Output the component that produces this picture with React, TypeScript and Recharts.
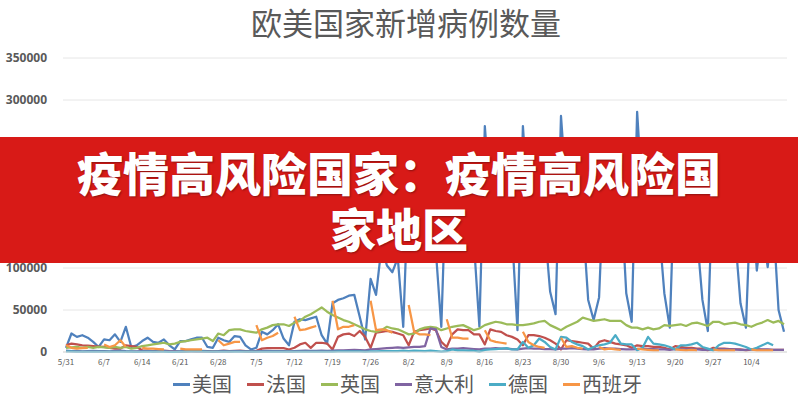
import React from 'react';
import { LineChart, Line, XAxis, YAxis, CartesianGrid } from 'recharts';

// daily values from 5/31 to 10/10 (133 days), one row per week
const US = [
  5000, 22000, 18000, 20000, 17000, 12000, 6000,
  15000, 14000, 21000, 12000, 30000, 6000, 8000,
  13000, 17000, 12000, 11000, 15000, 8000, 3000,
  13000, 13000, 15000, 17000, 17000, 6000, 5000,
  17000, 14000, 12000, 19000, 18000, 8000, 3000,
  5000, 24000, 21000, 26000, 33000, 16000, 8000,
  36000, 39000, 38000, 40000, 42000, 20000, 10000,
  58000, 62000, 64000, 67000, 68000, 42000, 15000,
  87000, 68000, 125000, 103000, 95000, 112000, 30000,
  210000, 150000, 170000, 140000, 160000, 120000, 30000,
  230000, 160000, 180000, 150000, 170000, 130000, 30000,
  269000, 180000, 160000, 190000, 150000, 140000, 26000,
  269000, 170000, 200000, 160000, 150000, 72000, 45000,
  281000, 190000, 170000, 200000, 160000, 62000, 38000,
  65000, 220000, 180000, 160000, 190000, 70000, 36000,
  286000, 180000, 200000, 170000, 150000, 70000, 29000,
  230000, 170000, 190000, 160000, 140000, 62000, 25000,
  220000, 180000, 160000, 190000, 140000, 58000, 29000,
  200000, 97000, 150000, 101000, 160000, 50000, 24000,
];

const FR = [
  8000, 10000, 9000, 8000, 7500, 7000, 6500,
  6000, 5000, 4000, 4000, 8000, 7000, 6000,
  2000, 1500, 1000, 1000, 1500, 1000, 800,
  500, 800, 1000, 1000, 1200, 1000, 800,
  1000, 1500, 1000, 1200, 1500, 1000, 600,
  1500, 4000, 4500, 4500, 4500, 4500, 3000,
  5000, 9000, 11000, 5000, 11000, 11000, 10000,
  3000, 18000, 21000, 22000, 19000, 25000, 18000,
  5000, 23000, 24000, 25000, 24000, 22000, 20000,
  8000, 24000, 26000, 27000, 28000, 26000, 12000,
  6000, 21000, 27000, 26000, 26000, 21000, 21000,
  9000, 27000, 25000, 24000, 20000, 18000, 15000,
  8000, 20000, 20000, 19000, 17000, 14000, 10000,
  3000, 14000, 13000, 12000, 11000, 10000, 4000,
  12000, 14000, 12000, 10000, 9000, 8000, 5000,
  8000, 7000, 7000, 6000, 6000, 5000, 3000,
  7000, 6000, 5000, 5000, 4000, 4000, 2000,
  5000, 4000, 4000, 3500, 3000, 3000, 2000,
  3000, 3000, 2500, 2500, 2500, 2500, 2500,
];

const UK = [
  5000, 5500, 6000, 5000, 6000, 5000, 6000,
  5500, 5000, 6000, 5000, 6000, 4000, 5000,
  7000, 8000, 9000, 10000, 11000, 9000, 10000,
  12000, 13000, 14000, 15000, 16000, 17000, 13000,
  22000, 20000, 26000, 27000, 27000, 25000, 24000,
  23000, 27000, 29000, 32000, 33000, 33000, 31000,
  35000, 37000, 42000, 45000, 49000, 53000, 48000,
  44000, 41000, 38000, 36000, 33000, 30000, 27000,
  25000, 24000, 26000, 30000, 28000, 27000, 24000,
  21000, 22000, 27000, 29000, 30000, 29000, 26000,
  28000, 30000, 31000, 32000, 29000, 26000, 28000,
  32000, 34000, 36000, 35000, 33000, 33000, 32000,
  32000, 33000, 34000, 36000, 37000, 32000, 29000,
  26000, 30000, 33000, 36000, 41000, 39000, 37000,
  38000, 39000, 37000, 37000, 37000, 32000, 29000,
  29000, 27000, 29000, 27000, 28000, 32000, 31000,
  32000, 33000, 31000, 34000, 35000, 33000, 31000,
  36000, 36000, 33000, 34000, 35000, 33000, 32000,
  30000, 33000, 35000, 38000, 35000, 37000, 33000,
];

const IT = [
  1500, 1000, 1200, 800, 1000, 1200, 900,
  1000, 800, 1200, 1500, 1000, 800, 700,
  1000, 1200, 800, 1000, 900, 700, 600,
  800, 1000, 900, 700, 800, 600, 500,
  700, 900, 800, 1000, 900, 700, 600,
  800, 1000, 1200, 1000, 1100, 900, 800,
  1000, 1300, 1500, 1200, 1400, 1600, 1200,
  1500, 1800, 2000, 2200, 2500, 2300, 2000,
  3000, 3500, 4000, 4500, 5000, 5500, 5000,
  5500, 6000, 6000, 7000, 28000, 27000, 6000,
  3000, 4000, 4000, 4500, 4000, 3500, 3000,
  4000, 4000, 4500, 4000, 4000, 3500, 3000,
  4000, 4500, 4000, 4000, 3500, 3500, 3000,
  4000, 4000, 4500, 4000, 3500, 3000, 3000,
  4000, 4500, 4000, 4000, 3500, 3000, 3000,
  3500, 4000, 3500, 3500, 3000, 3000, 2500,
  3500, 3500, 3000, 3000, 3000, 2500, 2500,
  3000, 3000, 3500, 3000, 3000, 2500, 2500,
  3000, 3000, 3000, 3000, 2500, 2500, 2500,
];

const DE = [
  800, 600, 500, 400, 500, 400, 300,
  300, 400, 500, 300, 400, 300, 200,
  300, 400, 300, 300, 300, 200, 200,
  300, 500, 600, 700, 600, 500, 400,
  500, 400, 500, 400, 400, 300, 300,
  300, 400, 400, 400, 500, 400, 300,
  400, 500, 400, 500, 500, 400, 300,
  500, 600, 600, 700, 800, 700, 500,
  600, 800, 900, 1000, 1000, 900, 1500,
  1000, 1500, 1200, 1000, 1500, 1000, 500,
  1000, 3000, 2000, 2000, 1500, 1500, 500,
  2500, 3000, 3500, 4000, 4500, 3000, 3000,
  12000, 5000, 8000, 16000, 12000, 6000, 3000,
  18000, 17000, 12000, 9000, 7000, 3000, 6000,
  8000, 9000, 11000, 20000, 10000, 9000, 9000,
  2000, 5000, 18000, 10000, 9000, 8000, 6000,
  3000, 8000, 8000, 9000, 11000, 6000, 4000,
  2000, 8000, 11000, 11000, 10000, 8000, 6000,
  3000, 5000, 8000, 11000, 8000, null, null,
];

const ES = [
  8000, 5000, 4000, 4500, 5000, null, null,
  9000, 6000, 8000, 14000, 6000, null, null,
  5000, 4000, 4000, 3500, 3000, null, null,
  4000, 3000, 3000, 3000, 3000, null, null,
  14000, 8000, 10000, 12000, 12000, null, null,
  32000, 14000, 17000, 19000, 23000, null, null,
  42000, 26000, 27000, 29000, 31000, null, null,
  61000, 27000, 30000, 30000, 32000, null, null,
  61000, 26000, 27000, 26000, 23000, null, null,
  56000, 24000, 21000, 21000, 20000, null, null,
  39000, 17000, 17000, 16000, 16000, null, null,
  26000, 14000, 12000, 11000, 10000, null, null,
  24000, 12000, 8000, 6000, 5000, null, null,
  17000, 6000, 7000, 5000, 4000, null, null,
  6000, 3000, 4000, 3000, 2500, null, null,
  4000, 3000, 2500, 2000, 2000, null, null,
  3000, 2500, 2000, 2500, 2000, null, null,
  3000, 2000, 2000, 2000, 2000, null, null,
  3000, 2000, 2000, 2000, 2000, null, null,
];

const TICK_LABELS = [
  '5/31', '6/7', '6/14', '6/21', '6/28', '7/5', '7/12', '7/19', '7/26', '8/2',
  '8/9', '8/16', '8/23', '8/30', '9/6', '9/13', '9/20', '9/27', '10/4',
];
const Y_TICKS = [0, 50000, 100000, 150000, 200000, 250000, 300000, 350000];

const SERIES = [
  { key: 'us', name: '美国', color: '#4F81BD', values: US },
  { key: 'fr', name: '法国', color: '#C0504D', values: FR },
  { key: 'uk', name: '英国', color: '#9BBB59', values: UK },
  { key: 'it', name: '意大利', color: '#8064A2', values: IT },
  { key: 'de', name: '德国', color: '#4BACC6', values: DE },
  { key: 'es', name: '西班牙', color: '#F79646', values: ES },
];

// m/d labels for each day starting 2020-05-31
const dayLabel = (i: number) => {
  const d = new Date(2020, 4, 31 + i);
  return `${d.getMonth() + 1}/${d.getDate()}`;
};

const data = US.map((_, i) => {
  const row: Record<string, any> = { date: dayLabel(i) };
  SERIES.forEach(s => { row[s.key] = s.values[i]; });
  return row;
});

const FONT = '"Noto Sans CJK SC", "Noto Sans", sans-serif';
// latin primary font keeps the line boxes tight, CJK glyphs come from the fallback
const BANNER_FONT = '"Liberation Sans", "Noto Sans CJK SC", sans-serif';

export default function App() {
  return (
    <div style={{ position: 'absolute', left: 0, top: 0, width: 798, height: 400, background: '#fff', overflow: 'hidden', fontFamily: FONT }}>
      <div style={{ position: 'absolute', left: 251, top: 6, width: 310, textAlign: 'center', fontSize: 31, lineHeight: '31px', color: '#595959' }}>
        欧美国家新增病例数量
      </div>

      <LineChart width={798} height={400} data={data} margin={{ top: 58, right: 11, bottom: 0, left: 0 }}>
        <CartesianGrid vertical={false} stroke="#E6E6E6" />
        <XAxis
          dataKey="date"
          ticks={TICK_LABELS}
          interval={0}
          height={48}
          padding={{ left: 3, right: 3 }}
          tickLine={false}
          tickSize={0}
          tickMargin={7}
          axisLine={{ stroke: '#D9D9D9' }}
          tick={{ fontSize: 8, fill: '#595959', fontFamily: FONT }}
        />
        <YAxis
          width={63}
          domain={[0, 350000]}
          ticks={Y_TICKS}
          axisLine={false}
          tickLine={false}
          tickSize={0}
          tickMargin={16}
          tick={{ fontSize: 12, fontWeight: 700, fill: '#595959', fontFamily: '"Noto Sans", sans-serif' }}
        />
        {SERIES.map(s => (
          <Line
            key={s.key}
            type="linear"
            dataKey={s.key}
            name={s.name}
            stroke={s.color}
            strokeWidth={2.25}
            strokeLinejoin="round"
            dot={false}
            activeDot={false}
            connectNulls={false}
            isAnimationActive={false}
          />
        ))}
      </LineChart>

      {/* legend */}
      <div style={{ position: 'absolute', left: 173, top: 374, display: 'flex', alignItems: 'center', fontSize: 20, lineHeight: '20px', color: '#595959' }}>
        {SERIES.map((s, i) => (
          <div key={s.key} style={{ display: 'flex', alignItems: 'center', marginRight: i < SERIES.length - 1 ? 15 : 0 }}>
            <span style={{ display: 'inline-block', width: 17, height: 3, background: s.color, marginRight: 2 }} />
            <span>{s.name}</span>
          </div>
        ))}
      </div>

      {/* red banner over the chart */}
      <div style={{
        position: 'absolute', left: 0, top: 137, width: 798, height: 126, background: '#D81A17',
        display: 'flex', flexDirection: 'column', alignItems: 'center', justifyContent: 'center', boxSizing: 'border-box', paddingTop: 6,
        color: '#fff', fontFamily: BANNER_FONT, fontSize: 46, fontWeight: 900, lineHeight: '56px', textAlign: 'center',
        textShadow: '1px 1px 2px rgba(0,0,0,0.35)',
      }}>
        <div style={{ height: 56 }}>疫情高风险国家：疫情高风险国</div>
        <div style={{ height: 56 }}>家地区</div>
      </div>
    </div>
  );
}
